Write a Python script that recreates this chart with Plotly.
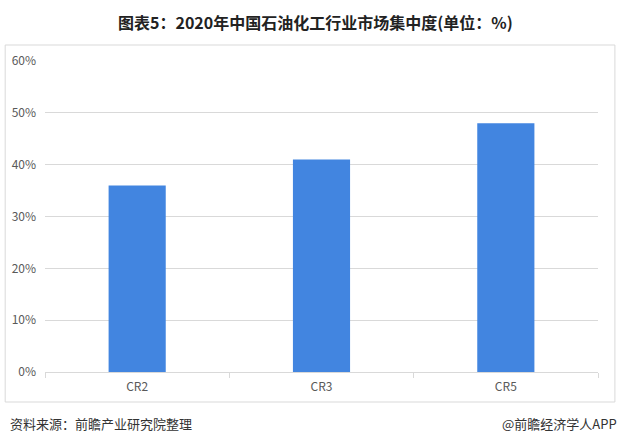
import plotly.graph_objects as go

categories = ["CR2", "CR3", "CR5"]
values = [36, 41, 48]
y_ticks = [0, 10, 20, 30, 40, 50, 60]
y_tick_labels = ["0%", "10%", "20%", "30%", "40%", "50%", "60%"]

title_text = "图表5：2020年中国石油化工行业市场集中度(单位：%)"
source_text = "资料来源：前瞻产业研究院整理"
brand_text = "@前瞻经济学人APP"

FONT = "Noto Sans CJK SC, Arial, sans-serif"

fig = go.Figure(go.Bar(x=categories, y=values, marker_color="#4285E0",
                       marker_line_width=0, hoverinfo="x+y"))

fig.update_layout(
    width=618, height=444,
    margin=dict(l=43, r=20, t=61, b=72),
    plot_bgcolor="white", paper_bgcolor="white",
    bargap=0.69,
    showlegend=False,
    font=dict(family=FONT, color="#595959", size=12),
)
fig.update_yaxes(range=[0, 60], tickvals=y_ticks, ticktext=y_tick_labels,
                 showgrid=True, gridcolor="#D9D9D9", gridwidth=1,
                 zeroline=False, showline=False, ticks="",
                 ticklabelstandoff=8,
                 tickfont=dict(size=12, color="#595959"))
fig.update_xaxes(showline=True, linecolor="#D9D9D9", linewidth=1,
                 ticks="outside", tickson="boundaries", ticklen=5,
                 tickcolor="#D9D9D9", showgrid=False,
                 ticklabelstandoff=4,
                 tickfont=dict(size=12, color="#595959"))

# outer border box
fig.add_shape(type="rect", xref="paper", yref="paper",
              x0=-0.072, x1=1.0306, y0=-0.0965, y1=1.0514,
              line=dict(color="#D9D9D9", width=1), fillcolor="rgba(0,0,0,0)")

fig.add_annotation(text="<b>" + title_text + "</b>", xref="paper", yref="paper",
                   x=(314 - 43) / 555, y=(372 - 22) / 311, xanchor="center", yanchor="middle",
                   showarrow=False, font=dict(size=16, color="#222222", family=FONT))
fig.add_annotation(text=source_text, xref="paper", yref="paper",
                   x=(6 - 43) / 555, y=(372 - 423) / 311, xanchor="left", yanchor="middle",
                   showarrow=False, font=dict(size=13, color="#333333", family=FONT))
fig.add_annotation(text=brand_text, xref="paper", yref="paper",
                   x=(619 - 43) / 555, y=(372 - 423) / 311, xanchor="right", yanchor="middle",
                   showarrow=False, font=dict(size=13, color="#333333", family=FONT))

fig.write_html("out.html", config={"displayModeBar": False},
               post_script="document.body.style.margin='0';")
